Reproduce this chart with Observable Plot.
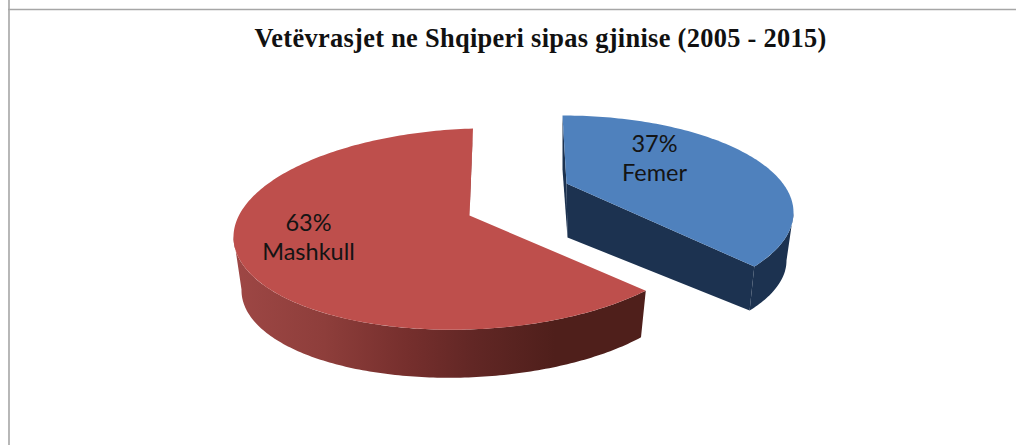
<!DOCTYPE html>
<html>
<head>
<meta charset="utf-8">
<script src="https://cdn.jsdelivr.net/npm/d3@7"></script>
<script src="https://cdn.jsdelivr.net/npm/@observablehq/plot@0.6"></script>
<style>html,body{margin:0;padding:0;background:#fff}svg{display:block}</style>
</head>
<body>
<script>
const title = "Vetëvrasjet ne Shqiperi sipas gjinise (2005 - 2015)";
const categories = ["Femer", "Mashkull"];
const shares = [37, 63];
const topColors = ["#4F81BD", "#BE4F4C"];
const sideStops = [[0, "#9E4745"], [0.22, "#8E3E3B"], [0.42, "#762F2D"], [0.58, "#622725"], [0.78, "#4F1F1B"], [1, "#4F1F1B"]];
const blueSide = "#1C3250";

// Projected outlines of the two exploded slices (top and bottom faces)
const layout = [
  {top: {cx: 562, cy: 212, rx: 231, ry: 97, sh: 0, ty: 0, warp: 0.93},
   bot: {cx: 562, cy: 260, rx: 224, ry: 91, sh: 0, ty: 0, warp: 0.926},
   apexTop: [566, 183], apexBot: [567, 237], label: [654, 157]},
  {top: {cx: 470, cy: 228.5, rx: 237, ry: 100.5, sh: -2.5, ty: -7, warp: 1.0066},
   bot: {cx: 467, cy: 282, rx: 226, ry: 95, sh: -2, ty: -7, warp: 1.017},
   apexTop: [469, 215], label: [308, 236]}
];

const rad = d => d * Math.PI / 180;
const pt = (e, deg) => {
  const X = Math.sin(rad(deg)), Y = -Math.cos(rad(deg));
  return {x: e.cx + e.rx * X + e.sh * Y, y: e.cy + e.ry * Y + e.ty * X};
};
const arc = (e, a, b) => {
  const n = Math.ceil(Math.abs(b - a));
  return d3.range(n + 1).map(i => pt(e, a + (b - a) * i / n));
};
const xy = ([x, y]) => ({x, y});

const spans = shares.map(s => s / 100 * 360);
const [blue, red] = layout;

// Femer: starts at 12 o'clock and runs clockwise
const blueEndT = spans[0] * blue.top.warp, blueEndB = spans[0] * blue.bot.warp;
const blueTop = [xy(blue.apexTop), ...arc(blue.top, 0, blueEndT)];
const blueArcSide = [...arc(blue.top, 90, blueEndT), ...arc(blue.bot, blueEndB, 90)];
const blueCut = [xy(blue.apexTop), pt(blue.top, blueEndT), pt(blue.bot, blueEndB), xy(blue.apexBot)];
const blueBack = [pt(blue.top, 0), pt(blue.bot, 0), xy(blue.apexBot), xy(blue.apexTop)];

// Mashkull: runs counter-clockwise from 12 o'clock
const redEndT = 360 - spans[1] * red.top.warp, redEndB = 360 - spans[1] * red.bot.warp;
const redTop = [xy(red.apexTop), ...arc(red.top, redEndT, 360)];
const redSide = [...arc(red.top, redEndT, 270), ...arc(red.bot, 270, redEndB)];
const redBack = [pt(red.top, 360), pt(red.bot, 360), xy(red.apexTop)];

const labels = categories.map((c, i) => ({
  text: `${shares[i]}%\n${c}`, x: layout[i].label[0], y: layout[i].label[1]
}));

const gradient = () => {
  const defs = d3.create("svg:defs");
  const g = defs.append("linearGradient").attr("id", "redSide")
    .attr("gradientUnits", "userSpaceOnUse")
    .attr("x1", 233).attr("x2", 645).attr("y1", 0).attr("y2", 0);
  sideStops.forEach(([o, c]) => g.append("stop").attr("offset", o).attr("stop-color", c));
  return defs.node();
};
const shape = (data, fill) => Plot.line(data, {x: "x", y: "y", fill, stroke: "none", curve: "linear"});

const chart = Plot.plot({
  width: 1016, height: 445,
  margin: 0,
  x: {domain: [0, 1016], range: [0, 1016], axis: null},
  y: {domain: [0, 445], range: [0, 445], axis: null},
  style: {background: "#fff", overflow: "hidden"},
  marks: [
    gradient,
    Plot.ruleX([8.5], {stroke: "#a6a6a6", strokeWidth: 1.6}),
    Plot.ruleY([9], {x1: 8, x2: 1016, stroke: "#a6a6a6", strokeWidth: 1.6}),
    shape(redBack, "#8A3A38"),
    shape(redSide, "url(#redSide)"),
    shape(redTop, topColors[1]),
    shape(blueBack, blueSide),
    shape(blueCut, blueSide),
    shape(blueArcSide, blueSide),
    shape(blueTop, topColors[0]),
    Plot.text([title], {
      x: () => 540, y: () => 38, text: d => d,
      fontFamily: "Liberation Serif", fontWeight: "bold", fontSize: 26.4, fill: "#111",
      textAnchor: "middle", className: "chart-title"
    }),
    Plot.text(labels, {
      x: "x", y: "y", text: "text", fontFamily: "Lato", fontSize: 23.5, lineHeight: 1.2,
      fill: "#141414", textAnchor: "middle"
    })
  ]
});
chart.querySelectorAll(".chart-title text, text.chart-title, g.chart-title").forEach(n => n.style.letterSpacing = "0.3px");
document.body.appendChild(chart);
</script>
</body>
</html>
